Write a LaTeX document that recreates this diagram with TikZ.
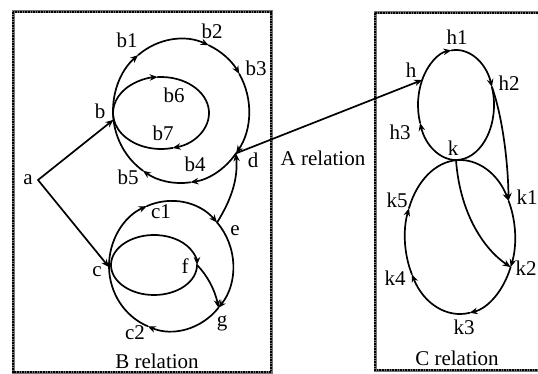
\documentclass[tikz,border=0pt]{standalone}
\usepackage{fontspec}
\setmainfont{Liberation Serif}
\usetikzlibrary{arrows.meta,calc}
\begin{document}
\begin{tikzpicture}[x=1pt,y=1pt,
  lbl/.style={inner sep=0pt,font=\fontsize{21}{21}\selectfont},
  edge/.style={line width=1.7pt,line cap=round},
  arr/.style={edge,-{Stealth[length=8pt,width=6.5pt]}},
  frame/.style={draw=black!55,line width=3pt},
  frametex/.style={draw=black,line width=1.6pt,densely dotted}]
\useasboundingbox (0,0) rectangle (538,-374);
% frames
\draw[frame] (13,-12) rectangle (271,-372);
\draw[frametex] (13,-12) rectangle (271,-372);
\draw[frame] (375,-13) rectangle (548,-370);
\draw[frametex] (375,-13) rectangle (548,-370);

% ---------- B relation ----------
\coordinate (a) at (38,-180);
\coordinate (CB) at (181,-111);
\coordinate (b)  at ($(CB)+(187:68 and 72)$);
\coordinate (b1p) at ($(CB)+(129:68 and 72)$);
\coordinate (b2p) at ($(CB)+(66:68 and 72)$);
\coordinate (b3p) at ($(CB)+(31:68 and 72)$);
\coordinate (d)  at ($(CB)+(-36:68 and 72)$);
\coordinate (b4p) at ($(CB)+(-82:68 and 72)$);
\coordinate (b5p) at ($(CB)+(-124:68 and 72)$);
\draw[arr] (b) arc[start angle=187,end angle=129,x radius=68,y radius=72];
\draw[arr] (b1p) arc[start angle=129,end angle=66,x radius=68,y radius=72];
\draw[arr] (b2p) arc[start angle=66,end angle=31,x radius=68,y radius=72];
\draw[arr] (b3p) arc[start angle=31,end angle=-36,x radius=68,y radius=72];
\draw[arr] (d) arc[start angle=-36,end angle=-82,x radius=68,y radius=72];
\draw[arr] (b4p) arc[start angle=-82,end angle=-124,x radius=68,y radius=72];
\draw[edge] (b5p) arc[start angle=-124,end angle=-173,x radius=68,y radius=72];
% inner b loop
\coordinate (CBi) at (161,-113);
\coordinate (bi) at ($(CBi)+(190:48 and 36)$);
\coordinate (b6p) at ($(CBi)+(94:48 and 36)$);
\coordinate (b7p) at ($(CBi)+(-76:48 and 36)$);
\draw[arr] (bi) arc[start angle=190,end angle=94,x radius=48,y radius=36];
\draw[arr] (b6p) arc[start angle=94,end angle=-76,x radius=48,y radius=36];
\draw[edge] (b7p) arc[start angle=-76,end angle=-170,x radius=48,y radius=36];

% c structure
\coordinate (CC) at (171,-266);
\coordinate (c)  at ($(CC)+(181:62 and 65)$);
\coordinate (c1p) at ($(CC)+(113:62 and 65)$);
\coordinate (e)  at ($(CC)+(42:62 and 65)$);
\coordinate (g)  at ($(CC)+(-40:62 and 65)$);
\coordinate (c2p) at ($(CC)+(-112:62 and 65)$);
\draw[arr] (c) arc[start angle=181,end angle=113,x radius=62,y radius=65];
\draw[arr] (c1p) arc[start angle=113,end angle=42,x radius=62,y radius=65];
\draw[arr] (e) arc[start angle=42,end angle=-40,x radius=62,y radius=65];
\draw[arr] (g) arc[start angle=-40,end angle=-112,x radius=62,y radius=65];
\draw[edge] (c2p) arc[start angle=-112,end angle=-179,x radius=62,y radius=65];
\coordinate (CCi) at (154,-265);
\coordinate (ci) at ($(CCi)+(183:43 and 30)$);
\coordinate (f)  at ($(CCi)+(0:43 and 30)$);
\draw[arr] (ci) arc[start angle=183,end angle=0,x radius=43,y radius=30];
\draw[edge] (f) arc[start angle=0,end angle=-177,x radius=43,y radius=30];
\draw[arr] (f) .. controls (207,-275) and (215,-290) .. (g);
\draw[arr] (e) .. controls (231,-200) and (238,-180) .. (d);

\draw[arr] (a) -- (b);
\draw[arr] (a) -- (c);

% ---------- C relation ----------
\coordinate (CH) at (456,-105);
\coordinate (h)  at ($(CH)+(153:38 and 55)$);
\coordinate (h1p) at ($(CH)+(97:38 and 55)$);
\coordinate (h2) at ($(CH)+(19:38 and 55)$);
\coordinate (k)  at ($(CH)+(-90:38 and 55)$);
\coordinate (h3p) at ($(CH)+(-161:38 and 55)$);
\draw[arr] (h) arc[start angle=153,end angle=97,x radius=38,y radius=55];
\draw[arr] (h1p) arc[start angle=97,end angle=19,x radius=38,y radius=55];
\draw[edge] (h2) arc[start angle=19,end angle=-90,x radius=38,y radius=55];
\draw[arr] (k) arc[start angle=-90,end angle=-161,x radius=38,y radius=55];
\draw[edge] (h3p) arc[start angle=-161,end angle=-207,x radius=38,y radius=55];

\coordinate (CK) at (460,-237);
\coordinate (kk) at ($(CK)+(94:55 and 77)$);
\coordinate (k1) at ($(CK)+(28:55 and 77)$);
\coordinate (k2) at ($(CK)+(-23:55 and 77)$);
\coordinate (k3p) at ($(CK)+(-80:55 and 77)$);
\coordinate (k4p) at ($(CK)+(-151:55 and 77)$);
\coordinate (k5p) at ($(CK)+(-202:55 and 77)$);
\draw[arr] (kk) arc[start angle=94,end angle=28,x radius=55,y radius=77];
\draw[arr] (k1) arc[start angle=28,end angle=-23,x radius=55,y radius=77];
\draw[arr] (k2) arc[start angle=-23,end angle=-80,x radius=55,y radius=77];
\draw[arr] (k3p) arc[start angle=-80,end angle=-151,x radius=55,y radius=77];
\draw[arr] (k4p) arc[start angle=-151,end angle=-202,x radius=55,y radius=77];
\draw[edge] (k5p) arc[start angle=-202,end angle=-266,x radius=55,y radius=77];
\draw[arr] (h2) .. controls (502,-115) and (508,-160) .. (k1);
\draw[arr] (k) .. controls (460,-215) and (485,-250) .. (k2);

\draw[arr] (d) -- (h);

% ---------- labels ----------
\node[lbl] (la) at (28,-180) {a};
\node[lbl] (lb) at (100,-111) {b};
\node[lbl] (lb1) at (127,-40) {b1};
\node[lbl] (lb2) at (212,-31) {b2};
\node[lbl] (lb3) at (256,-68) {b3};
\node[lbl] (lb4) at (195,-164) {b4};
\node[lbl] (lb5) at (128,-177) {b5};
\node[lbl] (lb6) at (174,-95) {b6};
\node[lbl] (lb7) at (163,-133) {b7};
\node[lbl] (ld) at (253,-160) {d};
\node[lbl] (lc1) at (161,-212) {c1};
\node[lbl] (le) at (235,-231) {e};
\node[lbl] (lf) at (185,-266) {f};
\node[lbl] (lc) at (97,-272) {c};
\node[lbl] (lg) at (222,-323) {g};
\node[lbl] (lc2) at (135,-333) {c2};
\node[lbl] (lB) at (157,-361) {B relation};
\node[lbl] (lA) at (323,-158) {A relation};
\node[lbl] (lh) at (411,-70) {h};
\node[lbl] (lh1) at (457,-37) {h1};
\node[lbl] (lh2) at (509,-83) {h2};
\node[lbl] (lh3) at (400,-132) {h3};
\node[lbl] (lk) at (453,-148) {k};
\node[lbl] (lk1) at (527,-197) {k1};
\node[lbl] (lk2) at (526,-268) {k2};
\node[lbl] (lk3) at (464,-327) {k3};
\node[lbl] (lk4) at (395,-278) {k4};
\node[lbl] (lk5) at (397,-200) {k5};
\node[lbl] (lC) at (457,-358) {C relation};
\end{tikzpicture}
\end{document}
